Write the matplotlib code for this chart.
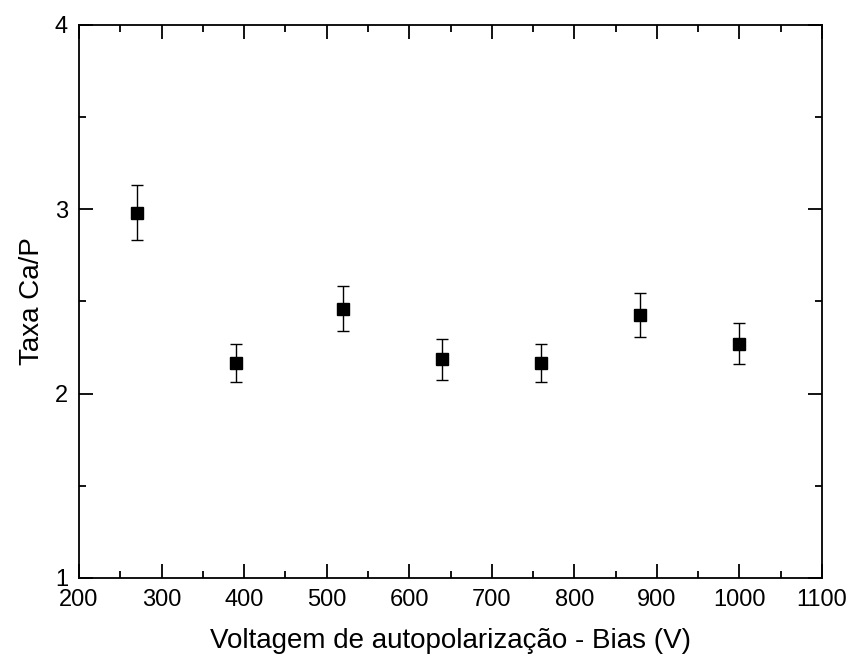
import matplotlib
matplotlib.use("Agg")
import matplotlib.pyplot as plt
from matplotlib.ticker import MultipleLocator

bias = [270, 390, 520, 640, 760, 880, 1000]
ca_p = [2.98, 2.165, 2.46, 2.185, 2.165, 2.425, 2.27]
ca_p_err = [0.15, 0.105, 0.12, 0.11, 0.105, 0.12, 0.11]

plt.rcParams['font.family'] = ['Liberation Sans', 'DejaVu Sans']

fig = plt.figure(figsize=(8.51, 6.6), dpi=100)
ax = fig.add_axes([79 / 851, 1 - 578 / 660, (822 - 79) / 851, (578 - 24.5) / 660])

ax.errorbar(bias, ca_p, yerr=ca_p_err, fmt='s', color='black', ms=8,
            ecolor='black', elinewidth=1, capsize=4, capthick=1)

ax.set_xlim(200, 1100)
ax.set_ylim(1, 4)
ax.xaxis.set_major_locator(MultipleLocator(100))
ax.xaxis.set_minor_locator(MultipleLocator(50))
ax.yaxis.set_major_locator(MultipleLocator(1))
ax.yaxis.set_minor_locator(MultipleLocator(0.5))
ax.tick_params(which='both', direction='in', top=True, right=True, width=1.3,
               labelsize=17, pad=8)
ax.tick_params(which='major', length=10)
ax.tick_params(which='minor', length=5)
for s in ax.spines.values():
    s.set_linewidth(1.3)

ax.set_xlabel("Voltagem de autopolarização - Bias (V)", fontsize=20, labelpad=12)
ax.set_ylabel("Taxa Ca/P", fontsize=20, labelpad=7)

fig.savefig("out.png", dpi=100)
